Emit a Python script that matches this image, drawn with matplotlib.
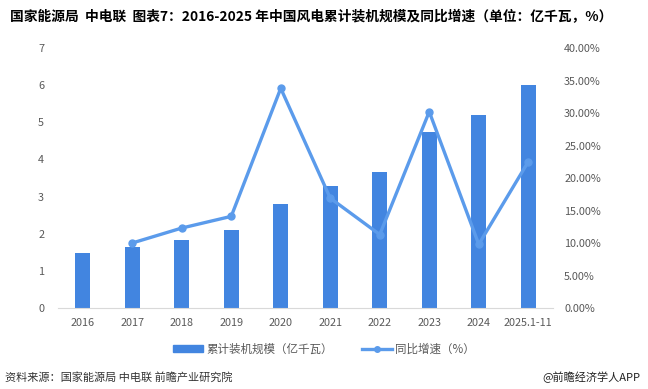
import matplotlib
matplotlib.use("Agg")
import matplotlib.pyplot as plt
from matplotlib.lines import Line2D
from matplotlib.patches import Patch
from matplotlib.ticker import FuncFormatter, MultipleLocator

plt.rcParams['font.family'] = ['Noto Sans CJK SC', 'DejaVu Sans']

categories = ["2016", "2017", "2018", "2019", "2020", "2021", "2022", "2023", "2024", "2025.1-11"]
capacity = [1.48, 1.63, 1.84, 2.09, 2.81, 3.28, 3.65, 4.74, 5.20, 6.00]
growth_x = ["2017", "2018", "2019", "2020", "2021", "2022", "2023", "2024", "2025.1-11"]
growth = [10.0, 12.3, 14.1, 33.8, 16.9, 11.3, 30.2, 9.8, 22.5]

W, H = 648, 389
fig = plt.figure(figsize=(W/100, H/100), dpi=100)
ax = fig.add_axes([58/W, 1-308/H, (553-58)/W, (308-48)/H])
ax2 = ax.twinx()

x = list(range(len(categories)))
bar_color = "#4285E0"
line_color = "#5B9BEB"
tick_color = "#595959"

ax.bar(x, capacity, width=0.31, color=bar_color, zorder=2)
gx = [categories.index(c) for c in growth_x]
ax2.plot(gx, growth, color=line_color, lw=2.4, marker='o', ms=5, zorder=3)

ax.set_xlim(-0.5, len(categories)-0.5)
ax.set_ylim(0, 7)
ax2.set_ylim(0, 40)
ax.yaxis.set_major_locator(MultipleLocator(1))
ax2.yaxis.set_major_locator(MultipleLocator(5))
ax2.yaxis.set_major_formatter(FuncFormatter(lambda v, p: f"{v:.2f}%"))
ax.set_xticks(x)
ax.set_xticklabels(categories)

for a in (ax, ax2):
    for s in a.spines.values():
        s.set_visible(False)
    a.tick_params(length=0, colors=tick_color, labelsize=7.8)
ax.spines['bottom'].set_visible(True)
ax.spines['bottom'].set_color("#D9D9D9")
ax.tick_params(axis='y', pad=10)
ax.tick_params(axis='x', pad=7)
ax2.tick_params(axis='y', pad=8)

fig.text(10/W, 1-17/H, "国家能源局  中电联  图表7：2016-2025 年中国风电累计装机规模及同比增速（单位：亿千瓦，%）",
         fontsize=9.9, fontweight='bold', va='center', ha='left', color="#000000")

handles = [Patch(color=bar_color), Line2D([0], [0], color=line_color, lw=2.4, marker='o', ms=4)]
labels = ["累计装机规模（亿千瓦）", "同比增速（%）"]
fig.legend(handles, labels, loc='center', bbox_to_anchor=(0.5, 1-349/H), ncol=2, frameon=False,
           fontsize=8.3, handlelength=2.6, handleheight=0.6, columnspacing=2.5, handletextpad=0.3,
           labelcolor=tick_color)

fig.text(5/W, 1-377/H, "资料来源：国家能源局 中电联 前瞻产业研究院", fontsize=8, va='center', ha='left', color="#333333")
fig.text(640/W, 1-377/H, "@前瞻经济学人APP", fontsize=8, va='center', ha='right', color="#222222")

fig.savefig("out.png", dpi=100)
